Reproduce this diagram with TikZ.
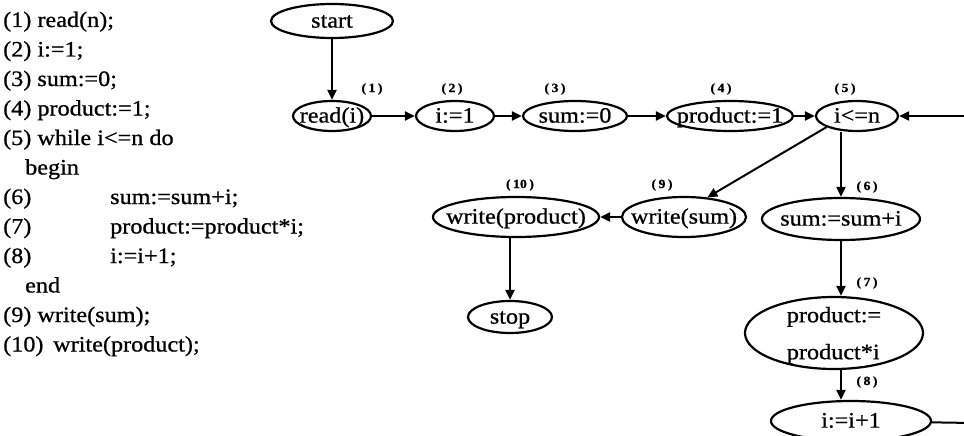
\documentclass[tikz,border=0pt]{standalone}
\usepackage{fontspec}
\setmainfont{Liberation Serif}[FakeStretch=1.1,FakeBold=0.8]
\usetikzlibrary{shapes.geometric,arrows.meta}
\newcommand{\nodetxt}[1]{\smash{\makebox[0pt]{\raisebox{-0.3em}{#1}}}}
\newcommand{\posnum}[1]{(\hspace{2.5pt}#1\hspace{2.5pt})}
\begin{document}
\begin{tikzpicture}[x=1pt,y=-1pt,
  code/.style={anchor=base west,inner sep=0pt,font=\fontsize{22}{26}\selectfont},
  ell/.style={draw,ellipse,line width=2.2pt,inner sep=0pt,font=\fontsize{22}{26}\selectfont},
  num/.style={inner sep=0pt,font=\fontsize{12.5}{14}\selectfont\bfseries},
  arr/.style={line width=2pt,-{Triangle[length=10pt,width=9pt]}},
  ln/.style={line width=2pt}]
\useasboundingbox (0,0) rectangle (964,436);
\clip (0,0) rectangle (964,436);

% program text
\node[code] (c1) at (3,27) {(1) read(n);};
\node[code] (c2) at (3,56.5) {(2) i:=1;};
\node[code] (c3) at (3,86) {(3) sum:=0;};
\node[code] (c4) at (3,115.5) {(4) product:=1;};
\node[code] (c5t) at (3,145) {(5) while i<=n do};
\node[code] (cb) at (25,174.5) {begin};
\node[code] (c6a) at (3,204) {(6)};
\node[code] (c6b) at (110,204) {sum:=sum+i;};
\node[code] (c7a) at (3,233.5) {(7)};
\node[code] (c7b) at (110,233.5) {product:=product*i;};
\node[code] (c8a) at (3,263) {(8)};
\node[code] (c8b) at (110,263) {i:=i+1;};
\node[code] (ce) at (25,292.5) {end};
\node[code] (c9) at (3,322) {(9) write(sum);};
\node[code] (c10) at (3,351.5) {(10)\, write(product);};

% flow graph nodes
\node[ell,minimum width=122pt,minimum height=34pt] (start) at (332,21) {\nodetxt{start}};
\node[ell,minimum width=78pt,minimum height=30pt] (read) at (332,116) {\nodetxt{read(i)}};
\node[ell,minimum width=78pt,minimum height=30pt] (i2) at (455,116) {\nodetxt{i:=1}};
\node[ell,minimum width=104pt,minimum height=30pt] (s3) at (575,116) {\nodetxt{sum:=0}};
\node[ell,minimum width=126pt,minimum height=30pt] (p4) at (730,116) {\nodetxt{product:=1}};
\node[ell,minimum width=82pt,minimum height=30pt] (c5) at (857,116) {\nodetxt{i<=n}};
\node[ell,minimum width=166pt,minimum height=40pt] (w10) at (516,217) {\nodetxt{write(product)}};
\node[ell,minimum width=124pt,minimum height=40pt] (w9) at (684,217) {\nodetxt{write(sum)}};
\node[ell,minimum width=158pt,minimum height=42pt] (s6) at (841,219) {\nodetxt{sum:=sum+i}};
\node[ell,minimum width=178pt,minimum height=72pt] (p7) at (834,333)
  {\smash{\makebox[0pt]{\raisebox{-0.35em}{\begin{tabular}[c]{@{}l@{}}product:=\\[11pt]product*i\end{tabular}}}}};
\node[ell,minimum width=160pt,minimum height=40pt] (i8) at (851,421) {\nodetxt{i:=i+1}};
\node[ell,minimum width=84pt,minimum height=32pt] (stop) at (510,317) {\nodetxt{stop}};

% position labels
\node[num] (n1) at (372,89) {\posnum{1}};
\node[num] (n2) at (452,89) {\posnum{2}};
\node[num] (n3) at (555,89) {\posnum{3}};
\node[num] (n4) at (721,89) {\posnum{4}};
\node[num] (n5) at (845,89) {\posnum{5}};
\node[num] (n10) at (520,185) {\posnum{10}};
\node[num] (n9) at (662,185) {\posnum{9}};
\node[num] (n6) at (867,187) {\posnum{6}};
\node[num] (n7) at (867,283) {\posnum{7}};
\node[num] (n8) at (867,382) {\posnum{8}};

% connectors
\coordinate (rin) at (972,116);
\coordinate (rout) at (972,423);
\draw[arr] (start) -- (read);
\draw[arr] (read) -- (i2);
\draw[arr] (i2) -- (s3);
\draw[arr] (s3) -- (p4);
\draw[arr] (p4) -- (c5);
\draw[arr] (rin) -- (c5);
\draw[arr] (c5.south -| s6.north) -- (s6.north);
\draw[arr] (c5.200) -- (w9.40);
\draw[arr] (s6.south) -- (s6.south |- p7.north);
\draw[arr] (p7.south -| s6.south) -- (i8.north -| s6.south);
\draw[arr] (w9) -- (w10);
\draw[arr] (stop.north |- w10.south) -- (stop);
\draw[ln] (i8) -- (rout);
\end{tikzpicture}
\end{document}
